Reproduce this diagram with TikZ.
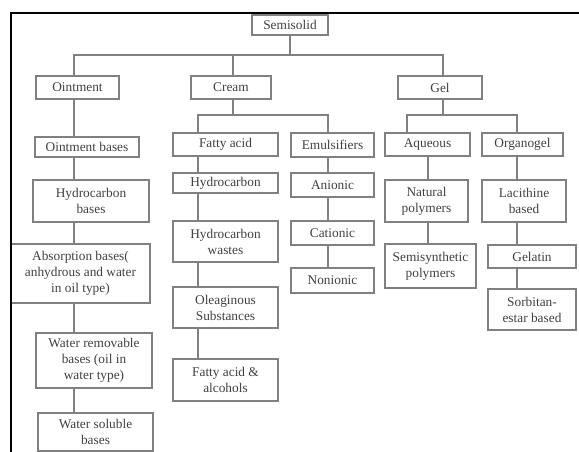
\documentclass[tikz,border=0pt]{standalone}
\usepackage{fontspec}
\setmainfont{Liberation Serif}
\usepackage{xcolor}
\usepackage{tikz}

\begin{document}
\begin{tikzpicture}[x=0.75pt, y=-0.75pt,
    box/.style={draw=black!50, line width=1.2pt, text=black!75,
        font=\fontsize{10}{12}\selectfont, align=center, inner sep=1pt},
    link/.style={draw=black!50, line width=1.2pt}]
    \useasboundingbox (0,0) rectangle (579,452);

    % Top level
    \node[box, minimum width=57pt, minimum height=15pt] (semi) at (290,25) {Semisolid};
    \node[box, minimum width=62pt, minimum height=17pt] (oint) at (77.5,87.5) {Ointment};
    \node[box, minimum width=60pt, minimum height=17pt] (cream) at (231,87.5) {Cream};
    \node[box, minimum width=63pt, minimum height=17pt] (gel) at (440,87.5) {Gel};

    % Ointment branch
    \node[box, minimum width=78pt, minimum height=15pt] (ointb) at (87,147) {Ointment bases};
    \node[box, minimum width=87pt, minimum height=31.5pt] (hcb) at (91,201) {Hydrocarbon\\bases};
    \node[box, minimum width=104pt, minimum height=44pt] (absb) at (80.5,273.5) {Absorption bases(\\anhydrous and water\\in oil type)};
    \node[box, minimum width=87pt, minimum height=41pt] (wrb) at (94,360.5) {Water removable\\bases (oil in\\water type)};
    \node[box, minimum width=86pt, minimum height=28.5pt] (wsb) at (95.5,432) {Water soluble\\bases};

    % Cream branch
    \node[box, minimum width=79pt, minimum height=17pt] (fa) at (225.5,144.5) {Fatty acid};
    \node[box, minimum width=79pt, minimum height=15pt] (hc) at (225.5,183) {Hydrocarbon};
    \node[box, minimum width=79pt, minimum height=31pt] (hcw) at (225.5,241.5) {Hydrocarbon\\wastes};
    \node[box, minimum width=79pt, minimum height=31pt] (ole) at (225.5,307.5) {Oleaginous\\Substances};
    \node[box, minimum width=79pt, minimum height=31.5pt] (faa) at (225.5,380) {Fatty acid \&\\alcohols};
    \node[box, minimum width=62pt, minimum height=18pt] (emul) at (332.5,145) {Emulsifiers};
    \node[box, minimum width=62pt, minimum height=18pt] (anio) at (332.5,185) {Anionic};
    \node[box, minimum width=62pt, minimum height=18pt] (catio) at (332.5,233) {Cationic};
    \node[box, minimum width=62pt, minimum height=18.5pt] (nonio) at (332.5,280.5) {Nonionic};

    % Gel branch
    \node[box, minimum width=64pt, minimum height=17pt] (aq) at (427.5,144.5) {Aqueous};
    \node[box, minimum width=62pt, minimum height=31.5pt] (natp) at (426.5,201) {Natural\\polymers};
    \node[box, minimum width=68pt, minimum height=33pt] (semip) at (430.5,266) {Semisynthetic\\polymers};
    \node[box, minimum width=61pt, minimum height=17pt] (orgo) at (522.5,144.5) {Organogel};
    \node[box, minimum width=63pt, minimum height=31.5pt] (lacb) at (524,201) {Lacithine\\based};
    \node[box, minimum width=66pt, minimum height=17pt] (gelat) at (532,256.5) {Gelatin};
    \node[box, minimum width=66pt, minimum height=31pt] (sorb) at (532,309.5) {Sorbitan-\\estar based};

    % Frame
    \draw[line width=1.5pt] (579,13) -- (11,13) -- (11,452);

    % Branch points
    \coordinate (os) at (74,55);
    \coordinate (cs) at (233,55);
    \coordinate (gs) at (443,55);
    \coordinate (fs) at (198,115);
    \coordinate (es) at (328,115);
    \coordinate (as) at (407,115);
    \coordinate (as2) at (428,115);
    \coordinate (rs) at (517,115);

    % Connectors, first level
    \draw[link] (semi.south) -- (semi.south |- os);
    \draw[link] (oint.north -| os) -- (os) -- (gs) -- (gel.north -| gs);
    \draw[link] (cs) -- (cream.north -| cs);

    % Connectors, ointment
    \draw[link] (oint.south -| os) -- (ointb.north -| os);
    \draw[link] (ointb.south -| os) -- (hcb.north -| os);
    \draw[link] (hcb.south -| os) -- (absb.north -| os);
    \draw[link] (absb.south -| os) -- (wrb.north -| os);
    \draw[link] (wrb.south -| os) -- (wsb.north -| os);

    % Connectors, cream
    \draw[link] (cream.south -| cs) -- (cs |- fs);
    \draw[link] (fa.north -| fs) -- (fs) -- (es) -- (emul.north -| es);
    \draw[link] (fa.south -| fs) -- (hc.north -| fs);
    \draw[link] (hc.south -| fs) -- (hcw.north -| fs);
    \draw[link] (hcw.south -| fs) -- (ole.north -| fs);
    \draw[link] (ole.south -| fs) -- (faa.north -| fs);
    \draw[link] (emul.south -| es) -- (anio.north -| es);
    \draw[link] (anio.south -| es) -- (catio.north -| es);
    \draw[link] (catio.south -| es) -- (nonio.north -| es);

    % Connectors, gel
    \draw[link] (gel.south -| gs) -- (gs |- as);
    \draw[link] (aq.north -| as) -- (as) -- (rs) -- (orgo.north -| rs);
    \draw[link] (aq.south -| as2) -- (natp.north -| as2);
    \draw[link] (natp.south -| as2) -- (semip.north -| as2);
    \draw[link] (orgo.south -| rs) -- (lacb.north -| rs);
    \draw[link] (lacb.south -| rs) -- (gelat.north -| rs);
    \draw[link] (gelat.south -| rs) -- (sorb.north -| rs);
\end{tikzpicture}
\end{document}
